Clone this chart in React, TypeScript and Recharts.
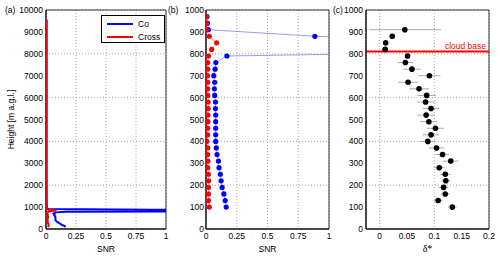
import React from 'react';
import {
  ScatterChart, Scatter, XAxis, YAxis, CartesianGrid, ReferenceArea, ReferenceLine, ErrorBar, Legend,
} from 'recharts';

// lowest kilometre, 30 m gates
const gateHeights = [100, 130, 160, 190, 220, 250, 280, 310, 340, 370, 400, 430, 460, 490, 520, 550, 580, 610, 640, 670, 700, 730, 760, 790, 820, 850, 880, 910, 940, 970];
const coSnr = [0.164, 0.156, 0.145, 0.131, 0.123, 0.117, 0.106, 0.101, 0.09, 0.084, 0.079, 0.079, 0.079, 0.079, 0.079, 0.077, 0.077, 0.071, 0.068, 0.071, 0.063, 0.074, 0.08, 0.17, 3.5, 2.6, 0.885, 0.019, 0.012, 0.008];
const crossSnr = [0.027, 0.02, 0.02, 0.02, 0.022, 0.02, 0.014, 0.016, 0.014, 0.014, 0.006, 0.014, 0.014, 0.016, 0.016, 0.018, 0.018, 0.014, 0.014, 0.014, 0.012, 0.014, 0.014, 0.02, 0.046, 0.087, 0.027, 0.005, 0.005, 0.005];

// rest of the profile, only shown in (a)
const upperHeights = [1500, 2000, 2500, 3000, 3500, 4000, 4500, 5000, 5500, 6000, 6500, 7000, 7500, 8000, 8500, 9000, 9550];
const coUpper = [0.004, 0.004, 0.003, 0.003, 0.003, 0.003, 0.003, 0.003, 0.003, 0.003, 0.003, 0.003, 0.003, 0.003, 0.003, 0.003, 0.003];
const crossUpper = [0.006, 0.006, 0.006, 0.006, 0.006, 0.006, 0.006, 0.006, 0.006, 0.006, 0.006, 0.006, 0.006, 0.006, 0.006, 0.006, 0.006];

// depolarisation ratio with spread
const deltaHeights = [100, 130, 160, 190, 220, 250, 280, 310, 340, 370, 400, 430, 460, 490, 520, 550, 580, 610, 640, 670, 700, 730, 760, 790, 820, 850, 880, 910];
const deltaStar = [0.133, 0.107, 0.12, 0.117, 0.121, 0.12, 0.109, 0.13, 0.115, 0.104, 0.088, 0.094, 0.102, 0.09, 0.085, 0.094, 0.084, 0.086, 0.072, 0.052, 0.091, 0.059, 0.047, 0.051, 0.01, 0.011, 0.023, 0.046];
const deltaErr = [0.008, 0.008, 0.008, 0.009, 0.008, 0.01, 0.01, 0.014, 0.012, 0.014, 0.015, 0.015, 0.016, 0.016, 0.016, 0.015, 0.016, 0.017, 0.018, 0.018, 0.02, 0.016, 0.014, 0.003, 0, 0, 0, 0.066];
const cloudBase = 810;

const snrTicks = [0, 0.25, 0.5, 0.75, 1];
const fullTicks = [0, 1000, 2000, 3000, 4000, 5000, 6000, 7000, 8000, 9000, 10000];
const lowTicks = [0, 100, 200, 300, 400, 500, 600, 700, 800, 900, 1000];
const deltaTicks = [0, 0.05, 0.1, 0.15, 0.2];

const BLUE = '#0000ff';
const RED = '#ff0000';
const FONT = 8.5;
const tick = { fontSize: FONT, fill: '#000' };

const lowCo = gateHeights.map((h, i) => ({ h, x: coSnr[i] }));
const lowCross = gateHeights.map((h, i) => ({ h, x: crossSnr[i] }));
const fullCo = [...lowCo, ...upperHeights.map((h, i) => ({ h, x: coUpper[i] }))];
const fullCross = [...lowCross, ...upperHeights.map((h, i) => ({ h, x: crossUpper[i] }))];
const deltaData = deltaHeights.map((h, i) => ({ h, x: deltaStar[i], err: deltaErr[i] }));

const noShape = () => <g />;
const blackDot = (p: any) => <circle cx={p.cx} cy={p.cy} r={2.8} fill="#000" />;
const colorDot = (c: string) => (p: any) => <circle cx={p.cx} cy={p.cy} r={2.6} fill={c} />;

const LegendBox = ({ payload }: any) => (
  <div style={{ width: 62, height: 26, border: '1px solid #000', background: '#fff', fontSize: FONT, position: 'relative' }}>
    {(payload || []).map((e: any, i: number) => (
      <div key={e.value} style={{ position: 'absolute', left: 5, top: 3 + i * 12.5, display: 'flex', alignItems: 'center', height: 10 }}>
        <div style={{ width: 26, height: 2, background: e.color }} />
        <span style={{ marginLeft: 5 }}>{e.value}</span>
      </div>
    ))}
  </div>
);

const panelLabel = (text: string, left: number) => (
  <div style={{ position: 'absolute', left, top: 5, fontSize: FONT, lineHeight: '11px' }}>{text}</div>
);

export default function App() {
  return (
    <div style={{ position: 'fixed', left: 0, top: 0, width: 500, height: 260, background: '#fff', fontFamily: '"Liberation Sans", Arial, sans-serif' }}>
      <div style={{ position: 'absolute', left: 0, top: 0 }}>
        <ScatterChart width={170} height={260} margin={{ top: 10, right: 4, bottom: 0, left: 0 }}>
          <CartesianGrid strokeDasharray="1 2" stroke="#aaa" />
          <XAxis type="number" dataKey="x" domain={[0, 1]} ticks={snrTicks} allowDataOverflow height={31}
            tick={tick} tickLine={false} tickSize={0} tickMargin={4} stroke="#000"
            label={{ value: 'SNR', position: 'insideBottom', offset: 8, fontSize: FONT, fill: '#000' }} />
          <YAxis type="number" dataKey="h" domain={[0, 10000]} ticks={fullTicks} allowDataOverflow width={46}
            tick={tick} tickLine={false} tickSize={0} tickMargin={3} stroke="#000"
            label={{ value: 'Height [m a.g.l.]', angle: -90, position: 'insideLeft', offset: 11, fontSize: FONT, fill: '#000', style: { textAnchor: 'middle' } }} />
          <ReferenceArea x1={0} x2={1} y1={0} y2={10000} fill="none" stroke="#000" strokeWidth={0.8} />
          <Scatter name="Co" data={fullCo} fill={BLUE} shape={noShape} line={{ stroke: BLUE, strokeWidth: 2 }} lineType="joint" isAnimationActive={false} />
          <Scatter name="Cross" data={fullCross} fill={RED} shape={noShape} line={{ stroke: RED, strokeWidth: 2 }} lineType="joint" isAnimationActive={false} />
          <Legend layout="vertical" align="center" verticalAlign="middle" content={<LegendBox />}
            wrapperStyle={{ left: 101, top: 15, width: 64, height: 28 }} />
        </ScatterChart>
        {panelLabel('(a)', 5)}
      </div>

      <div style={{ position: 'absolute', left: 170, top: 0 }}>
        <ScatterChart width={163} height={260} margin={{ top: 10, right: 4, bottom: 0, left: 0 }}>
          <CartesianGrid strokeDasharray="1 2" stroke="#aaa" />
          <XAxis type="number" dataKey="x" domain={[0, 1]} ticks={snrTicks} allowDataOverflow height={31}
            tick={tick} tickLine={false} tickSize={0} tickMargin={4} stroke="#000"
            label={{ value: 'SNR', position: 'insideBottom', offset: 8, fontSize: FONT, fill: '#000' }} />
          <YAxis type="number" dataKey="h" domain={[0, 1000]} ticks={lowTicks} allowDataOverflow width={36}
            tick={tick} tickLine={false} tickSize={0} tickMargin={2} stroke="#000" />
          <ReferenceArea x1={0} x2={1} y1={0} y2={1000} fill="none" stroke="#000" strokeWidth={0.8} />
          <Scatter name="Co" data={lowCo} fill={BLUE} shape={colorDot(BLUE)} line={{ stroke: '#7f7fff', strokeWidth: 0.8 }} lineType="joint" isAnimationActive={false} />
          <Scatter name="Cross" data={lowCross} fill={RED} shape={colorDot(RED)} line={{ stroke: '#ff7f7f', strokeWidth: 0.8 }} lineType="joint" isAnimationActive={false} />
        </ScatterChart>
        {panelLabel('(b)', -2)}
      </div>

      <div style={{ position: 'absolute', left: 333, top: 0 }}>
        <ScatterChart width={167} height={260} margin={{ top: 10, right: 11, bottom: 0, left: 0 }}>
          <CartesianGrid strokeDasharray="1 2" stroke="#aaa" />
          <XAxis type="number" dataKey="x" domain={[-0.025, 0.2]} ticks={deltaTicks} allowDataOverflow height={31}
            tick={tick} tickLine={false} tickSize={0} tickMargin={4} stroke="#000"
            label={{ value: 'δ*', position: 'insideBottom', offset: 8, fontSize: 10, fill: '#000', fontFamily: '"Liberation Serif", serif' }} />
          <YAxis type="number" dataKey="h" domain={[0, 1000]} ticks={lowTicks} allowDataOverflow width={33}
            tick={tick} tickLine={false} tickSize={0} tickMargin={3} stroke="#000" />
          <ReferenceArea x1={-0.025} x2={0.2} y1={0} y2={1000} fill="none" stroke="#000" strokeWidth={0.8} />
          <ReferenceLine y={cloudBase} stroke={RED} strokeWidth={2}
            label={{ value: 'cloud base', position: 'insideBottomRight', offset: 3, fill: RED, fontSize: FONT }} />
          <Scatter data={deltaData} fill="#000" shape={blackDot} isAnimationActive={false}>
            <ErrorBar dataKey="err" direction="x" width={0} stroke="#aaa" strokeWidth={1} />
          </Scatter>
        </ScatterChart>
        {panelLabel('(c)', 0)}
      </div>
    </div>
  );
}
